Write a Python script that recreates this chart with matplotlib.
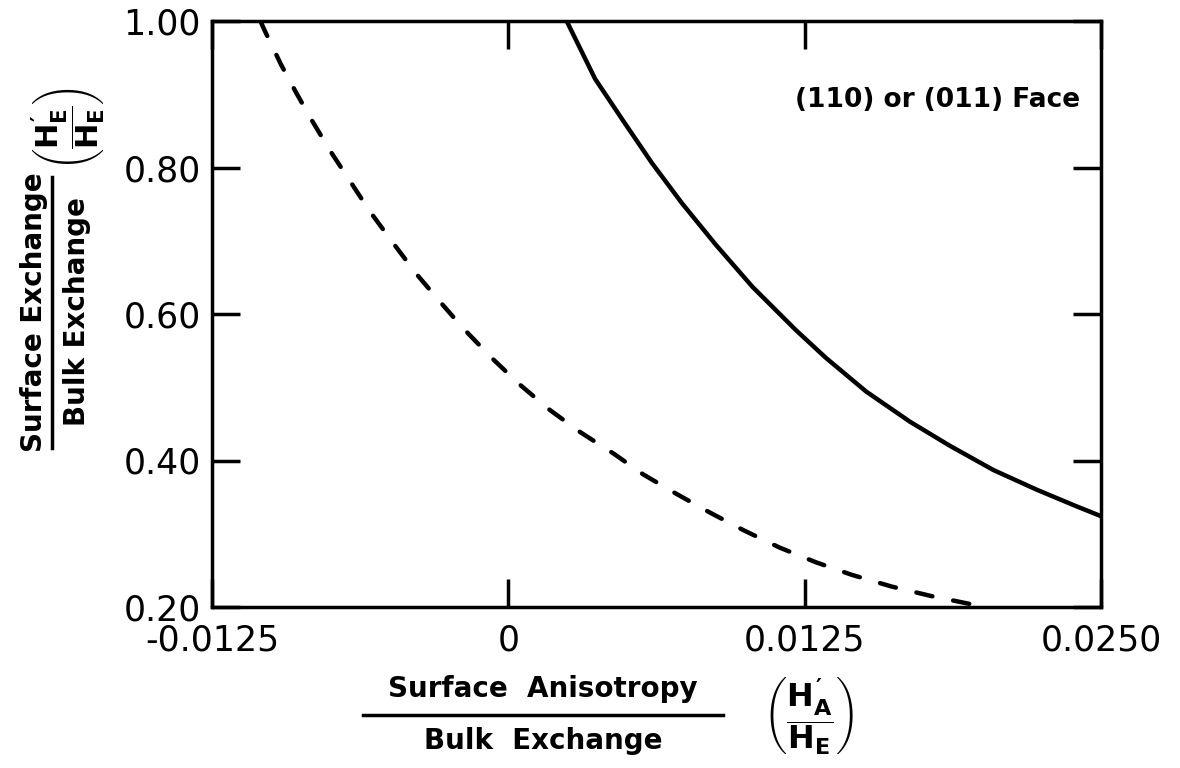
import matplotlib
matplotlib.use('Agg')
import matplotlib.pyplot as plt
from matplotlib.lines import Line2D

plt.rcParams['font.family'] = ['DejaVu Sans']
plt.rcParams['mathtext.fontset'] = 'custom'
plt.rcParams['mathtext.rm'] = 'DejaVu Sans:bold'
plt.rcParams['mathtext.it'] = 'DejaVu Sans:bold'
plt.rcParams['mathtext.bf'] = 'DejaVu Sans:bold'

# ticks
x_ticks = [-0.0125, 0.0, 0.0125, 0.0250]
x_tick_labels = ['-0.0125', '0', '0.0125', '0.0250']
y_ticks = [0.20, 0.40, 0.60, 0.80, 1.00]
y_tick_labels = ['0.20', '0.40', '0.60', '0.80', '1.00']

# dashed curve
dashed_x = [-0.01046, -0.01025, -0.00958, -0.00893, -0.0083, -0.00752, -0.00667,
            -0.00584, -0.00484, -0.00386, -0.00289, -0.00189, -0.0007, 0.00047,
            0.00175, 0.00302, 0.00446, 0.00569, 0.00706, 0.00844, 0.00991,
            0.01145, 0.01298, 0.01448, 0.01616, 0.01783, 0.0201]
dashed_y = [1.0, 0.985, 0.940, 0.901, 0.865, 0.823, 0.781,
            0.740, 0.696, 0.654, 0.617, 0.580, 0.540, 0.504,
            0.469, 0.439, 0.409, 0.381, 0.355, 0.330, 0.305,
            0.281, 0.261, 0.244, 0.228, 0.215, 0.20]

# solid curve
solid_x = [0.00246, 0.00366, 0.00486, 0.00606, 0.00733, 0.00874, 0.0103,
           0.01213, 0.0134, 0.0151, 0.01694, 0.01863, 0.02046, 0.0223,
           0.02385, 0.025]
solid_y = [1.0, 0.921, 0.863, 0.806, 0.751, 0.695, 0.637,
           0.578, 0.540, 0.494, 0.453, 0.420, 0.387, 0.360,
           0.339, 0.324]

W, H = 1180, 768
fig = plt.figure(figsize=(W / 100, H / 100), dpi=100)
ax = fig.add_axes([212 / W, 1 - 607 / H, (1101 - 212) / W, (607 - 21) / H])

ax.plot(solid_x, solid_y, color='black', lw=3.2, solid_joinstyle='round')
line, = ax.plot(dashed_x, dashed_y, color='black', lw=3.2,
                dash_capstyle='round')
line.set_dashes([3.7, 4.75])

ax.set_xlim(-0.0125, 0.025)
ax.set_ylim(0.20, 1.00)
ax.set_xticks(x_ticks)
ax.set_xticklabels(x_tick_labels)
ax.set_yticks(y_ticks)
ax.set_yticklabels(y_tick_labels)

for s in ax.spines.values():
    s.set_linewidth(2.5)
ax.tick_params(direction='in', length=20, width=2.5, top=True, right=True,
               labelsize=25, pad=8)
ax.tick_params(axis='x', pad=12)

ax.text(0.977, 0.865, '(110) or (011) Face', transform=ax.transAxes,
        ha='right', va='center', fontsize=19, fontweight='bold')


def px(x, y):
    return x / W, 1 - y / H


# x axis label: fraction + (H'A/HE)
fig.text(*px(543, 689), 'Surface  Anisotropy', ha='center', va='center',
         fontsize=20, fontweight='bold')
fig.add_artist(Line2D([363 / W, 723 / W], [1 - 715 / H, 1 - 715 / H],
                      transform=fig.transFigure, color='black', lw=2.5))
fig.text(*px(543, 741), 'Bulk  Exchange', ha='center', va='center',
         fontsize=20, fontweight='bold')
fig.text(*px(808, 716), r'$\left(\dfrac{H_A^{\prime}}{H_E}\right)$',
         ha='center', va='center', fontsize=23)

# y axis label: fraction + (H'E/HE)
fig.text(*px(34, 312), 'Surface Exchange', ha='center', va='center',
         fontsize=20, fontweight='bold', rotation=90)
fig.add_artist(Line2D([52 / W, 52 / W], [1 - 177 / H, 1 - 448 / H],
                      transform=fig.transFigure, color='black', lw=2.5))
fig.text(*px(77, 312), 'Bulk Exchange', ha='center', va='center',
         fontsize=20, fontweight='bold', rotation=90)
fig.text(*px(68, 128), r'$\left(\dfrac{H_E^{\prime}}{H_E}\right)$',
         ha='center', va='center', fontsize=22, rotation=90)

fig.savefig('out.png', dpi=100)
